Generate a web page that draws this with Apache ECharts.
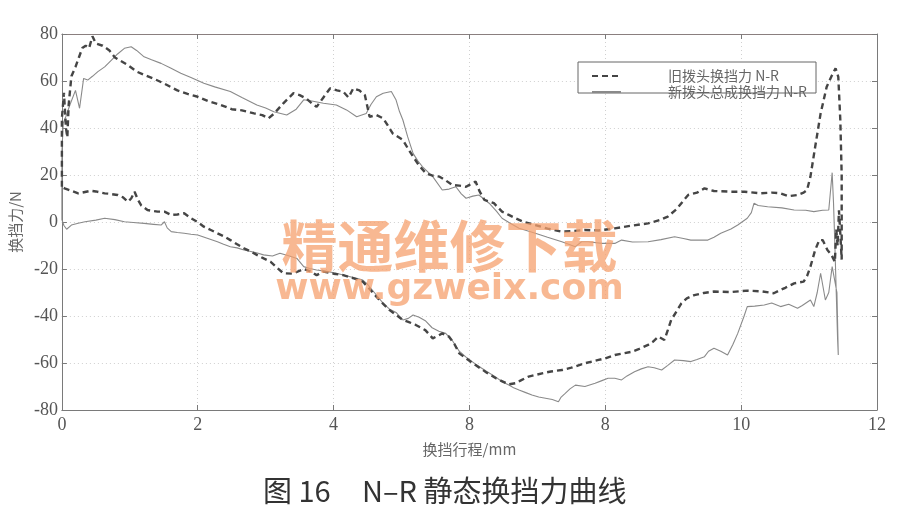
<!DOCTYPE html>
<html><head><meta charset="utf-8">
<script src="https://cdn.jsdelivr.net/npm/echarts@6/dist/echarts.min.js"></script>
<style>html,body{margin:0;padding:0;background:#fff}#c{width:899px;height:527px}</style>
</head><body><div id="c"></div>
<script>
const xTickLabels = ['0','2','4','8','8','10','12'];
const yTicks = [-80,-60,-40,-20,0,20,40,60,80];
const seriesNames = ['旧拨头换挡力 N-R','新拨头总成换挡力 N-R'];

const oldX = [0,0,0.03,0.06,0.08,0.1,0.14,0.2,0.25,0.3,0.35,0.4,0.45,0.5,0.6,0.7,0.78,0.9,0.97,1.1,1.21,1.35,1.5,1.7,1.85,2.0,2.15,2.34,2.5,2.65,2.83,2.95,3.04,3.12,3.26,3.41,3.5,3.6,3.68,3.75,3.85,3.95,4.05,4.14,4.22,4.29,4.38,4.46,4.53,4.63,4.73,4.8,4.87,5.02,5.1,5.17,5.26,5.36,5.45,5.56,5.66,5.75,5.85,5.95,6.09,6.15,6.22,6.36,6.48,6.58,6.68,6.8,6.97,7.15,7.36,7.55,7.7,7.9,8.14,8.4,8.63,8.8,8.92,9.05,9.12,9.22,9.35,9.46,9.6,9.85,10.05,10.29,10.45,10.58,10.7,10.83,10.92,10.97,11.02,11.09,11.17,11.26,11.33,11.39,11.43,11.46,11.48,11.48,
11.46,11.44,11.42,11.4,11.38,11.33,11.27,11.2,11.15,11.09,11.02,10.97,10.92,10.78,10.65,10.58,10.48,10.3,10.09,9.85,9.6,9.45,9.31,9.2,9.12,9.05,8.97,8.92,8.87,8.78,8.7,8.63,8.5,8.39,8.25,8.14,8.0,7.9,7.7,7.5,7.36,7.2,7.07,6.87,6.75,6.68,6.58,6.5,6.39,6.25,6.09,5.95,5.85,5.78,5.7,5.6,5.53,5.46,5.35,5.21,5.1,5.02,4.92,4.82,4.72,4.63,4.53,4.43,4.3,4.14,4.0,3.85,3.75,3.66,3.56,3.4,3.26,3.15,3.07,2.97,2.87,2.78,2.68,2.58,2.48,2.38,2.29,2.2,2.09,2.0,1.9,1.8,1.7,1.61,1.51,1.41,1.26,1.17,1.12,1.07,1.02,0.97,0.9,0.82,0.7,0.63,0.5,0.43,0.3,0.24,0.12,0.04,0];
const oldY = [15,44,55,40,36,50,62,66,70,74,75,74,79,76,75,73,70,68,66.8,64,62.6,61,59,56,54.5,53.3,51.5,49.8,48,47.5,46.2,45.5,44.1,46,50.5,54.8,54,52.5,50.5,49,53,56.9,56,55.5,53,56.9,56,54,44.8,45.5,44.1,41,37.7,34.9,31,27.8,24,20.7,19.8,19.3,17.5,15.7,15.5,15,17.2,13,9.4,8,4.4,3,1.6,0,-1.3,-2.8,-4.1,-3.8,-3.4,-3.6,-2.7,-1.5,-0.6,0.8,2.3,5.5,8,11.5,12.5,14.3,13.2,12.9,12.9,12.2,12.5,12.2,11,11.5,12.5,13.6,19.3,32,46.2,57.6,62,65.4,61.8,43.4,20,-16,
-5,5,-10,-3,-17,-14,-11.9,-7.7,-7.7,-11.9,-19,-23,-25.4,-26.1,-28,-28.9,-30.3,-29.5,-29.2,-29.8,-29.6,-30.2,-31.1,-32.5,-34.6,-38,-41.7,-46,-50.2,-48.8,-51,-52.3,-54,-55.2,-56,-56.6,-58,-58.7,-60.1,-62,-63,-63.6,-64.4,-65.8,-67.5,-68.6,-69.1,-68,-66.5,-64,-60.9,-58,-55.9,-52,-48.8,-47.4,-48.5,-49.5,-46,-43.8,-42.5,-41.7,-39.5,-37.4,-34.5,-31.8,-28.5,-25.4,-24,-22.6,-22,-21.1,-22.6,-21,-20,-22,-21.8,-19,-16.9,-15.5,-14,-12.5,-11.2,-9.5,-7.7,-6,-4.8,-3.5,-2,0,1.6,3.7,3.2,3,4.4,4.4,5.1,7,9.4,12.9,10,8.6,10.5,11.5,12,12.2,13,13.3,12.5,12.2,13.5,14.3,15];

const newX = [0,0,0.02,0.06,0.12,0.2,0.26,0.32,0.38,0.45,0.53,0.63,0.73,0.82,0.92,1.02,1.1,1.21,1.32,1.46,1.6,1.75,1.9,2.09,2.25,2.48,2.65,2.87,3.0,3.12,3.31,3.45,3.56,3.68,3.85,4.04,4.19,4.34,4.48,4.55,4.63,4.73,4.85,4.92,4.97,5.02,5.09,5.17,5.24,5.31,5.46,5.6,5.7,5.8,5.88,5.95,6.05,6.14,6.29,6.4,6.48,6.6,6.73,6.97,7.15,7.36,7.56,7.65,7.75,7.95,8.14,8.24,8.4,8.63,8.82,9.02,9.15,9.26,9.51,9.6,9.7,9.85,9.95,10.09,10.15,10.19,10.25,10.39,10.6,10.78,10.95,11.07,11.2,11.29,11.34,11.36,11.38,11.4,11.42,11.43,11.41,
11.34,11.29,11.24,11.17,11.12,11.07,11.02,10.9,10.83,10.7,10.58,10.45,10.34,10.2,10.09,10.04,9.95,9.88,9.8,9.7,9.6,9.52,9.46,9.35,9.26,9.15,9.02,8.92,8.83,8.72,8.63,8.53,8.43,8.32,8.24,8.14,8.04,7.95,7.85,7.7,7.56,7.48,7.41,7.35,7.31,7.22,7.12,7.02,6.92,6.82,6.73,6.65,6.58,6.48,6.39,6.25,6.09,5.95,5.85,5.75,5.65,5.55,5.45,5.35,5.26,5.17,5.1,5.02,4.92,4.82,4.73,4.6,4.5,4.43,4.34,4.2,4.04,3.9,3.75,3.65,3.56,3.46,3.35,3.21,3.1,2.97,2.85,2.68,2.58,2.48,2.38,2.29,2.15,2.0,1.9,1.8,1.7,1.61,1.55,1.51,1.46,1.35,1.21,1.05,0.92,0.78,0.63,0.5,0.34,0.24,0.14,0.07,0.03,0];
const newY = [1,30,42,45,50,56,48.4,61.1,60.4,62,64,66,68.9,71.5,73.9,74.6,73,70.3,69,67.5,65.5,63.3,61.5,59,57.5,55.5,53,49.8,48.5,46.9,45.5,48,52,51.5,50.5,49.8,47.7,44.8,46.2,50,53.3,54.8,55.5,51.9,47,43.4,36.3,29.2,26,23.5,19.3,13.6,14,15,12,10.1,11,11.5,8,4.5,1.6,-0.5,-2.7,-4.8,-6.5,-8.4,-10.5,-8.4,-8.4,-9.1,-9.1,-7.7,-8.5,-8.4,-7.5,-6.3,-7,-7.7,-7.7,-6.5,-4.8,-3,-1.3,1.6,4,8,7,6.5,6,5.1,5,4.4,5,5.1,21,8,-10,-30,-50,-56.6,-30,
-19,-30,-33.2,-21.8,-30,-36,-33.2,-35.5,-36.7,-35,-36,-34.5,-35.3,-35.8,-36,-40.3,-47.4,-52,-56.6,-55,-53.7,-55,-57.3,-58.5,-59.4,-59,-58.7,-61,-63,-62,-61.6,-62.5,-63.7,-65.5,-67.2,-66.5,-66.5,-67.5,-68.6,-70,-69.4,-71,-72.9,-74.5,-76.5,-75.5,-75,-74.5,-73.6,-72.5,-71.5,-70.5,-69.4,-68,-66,-63.5,-60.5,-57.5,-55,-50.5,-47.4,-46.5,-45,-42,-40.5,-39.6,-41,-41.7,-38.5,-37,-34.6,-30,-26.5,-24.7,-24,-23,-21.8,-21,-20.4,-19.8,-19,-15.5,-14.5,-13.3,-14.5,-14,-13,-11.9,-11,-10.5,-9.5,-8.4,-7,-5.5,-5.2,-4.8,-4.5,-4.1,-2.5,0.1,-1.3,-1,-0.6,-0.2,0.1,1,1.6,0.8,0.1,-0.5,-1.3,-3.1,-1.5,1];

const oldData = oldX.map((x,i)=>[x,oldY[i]]);
const newData = newX.map((x,i)=>[x,newY[i]]);

const chart = echarts.init(document.getElementById('c'), null, {renderer:'canvas'});
const serif = '"Liberation Serif","DejaVu Serif","Noto Sans CJK SC",serif';
const cjk = '"Noto Sans CJK SC","Liberation Serif",sans-serif';
const axisCol = '#7a7a7a';
chart.setOption({
  backgroundColor:'#ffffff',
  animation:false,
  grid:{left:57,right:22,top:34,bottom:117},
  legend:{
    orient:'vertical', left:586, top:64, itemGap:2, itemWidth:29, itemHeight:14, z:10,
    data:seriesNames,
    itemStyle:{opacity:0},
    textStyle:{fontFamily:cjk, fontSize:14, color:'#666', padding:[0,0,0,42]}
  },
  xAxis:[{
    type:'value', min:0, max:12, interval:2,
    name:'换挡行程/mm', nameLocation:'middle', nameGap:32,
    nameTextStyle:{fontFamily:cjk, fontSize:15, color:'#666'},
    axisLine:{show:true, onZero:false, lineStyle:{color:axisCol}},
    axisTick:{inside:true, length:5, lineStyle:{color:axisCol}},
    axisLabel:{fontFamily:serif, fontSize:18, color:'#555', margin:6,
      formatter:v=>xTickLabels[Math.round(v/2)]},
    splitLine:{show:true, lineStyle:{color:'#d0d0d0', type:[1,3]}}
  },{
    type:'value', position:'top', min:0, max:12, interval:2,
    axisLine:{show:true, onZero:false, lineStyle:{color:'#8a7f7f'}},
    axisTick:{inside:true, length:5, lineStyle:{color:axisCol}},
    axisLabel:{show:false}, splitLine:{show:false}
  }],
  yAxis:[{
    type:'value', min:-80, max:80, interval:20,
    name:'换挡力/N', nameLocation:'middle', nameGap:38, nameRotate:90,
    nameTextStyle:{fontFamily:cjk, fontSize:15, color:'#666'},
    axisLine:{show:true, onZero:false, lineStyle:{color:axisCol}},
    axisTick:{inside:true, length:5, lineStyle:{color:axisCol}},
    axisLabel:{fontFamily:serif, fontSize:18, color:'#555', margin:4,
      formatter:v=> yTicks.includes(v) ? String(v) : ''},
    splitLine:{show:true, lineStyle:{color:'#d0d0d0', type:[1,3]}}
  },{
    type:'value', position:'right', min:-80, max:80, interval:20,
    axisLine:{show:true, onZero:false, lineStyle:{color:axisCol}},
    axisTick:{inside:true, length:5, lineStyle:{color:axisCol}},
    axisLabel:{show:false}, splitLine:{show:false}
  }],
  series:[
    {name:seriesNames[0], type:'line', data:oldData, symbol:'none', z:3,
     lineStyle:{color:'#454545', width:2.4, type:[6,4]}, itemStyle:{color:'#454545'}},
    {name:seriesNames[1], type:'line', data:newData, symbol:'none', z:2,
     lineStyle:{color:'#8a8a8a', width:1.1}, itemStyle:{color:'#8a8a8a'}}
  ],
  graphic:[
    {type:'rect', z:5, shape:{x:578, y:62, width:238, height:31},
     style:{fill:'#ffffff', stroke:'#666', lineWidth:1}},
    {type:'text', z:20, left:'center', top:218,
     style:{text:'精通维修下载', font:'bold 56px "Noto Sans CJK SC", sans-serif', fill:'rgba(245,160,110,0.75)'}},
    {type:'text', z:20, left:'center', top:272,
     style:{text:'www.gzweix.com', font:'bold 36px "DejaVu Sans", sans-serif', fill:'rgba(245,160,110,0.75)'}},
    {type:'text', z:20, left:263, top:476,
     style:{text:'图 16', font:'29px "Noto Sans CJK SC", sans-serif', fill:'#333'}},
    {type:'text', z:20, left:362, top:476,
     style:{text:'N–R 静态换挡力曲线', font:'29px "Noto Sans CJK SC", sans-serif', fill:'#333'}}
  ]
});
</script></body></html>
